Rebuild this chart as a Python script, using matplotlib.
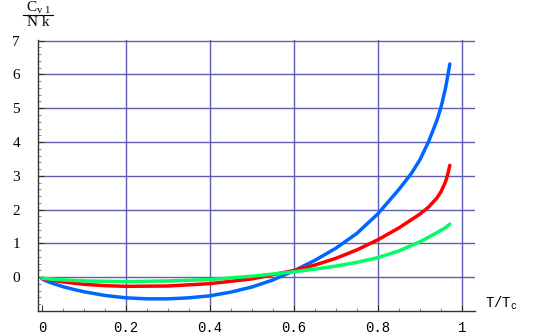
import numpy as np
import matplotlib
matplotlib.use('Agg')
import matplotlib.pyplot as plt
from matplotlib.ticker import MultipleLocator
from matplotlib.lines import Line2D

plt.rcParams['mathtext.fontset'] = 'custom'
plt.rcParams['mathtext.rm'] = 'Liberation Serif'
plt.rcParams['mathtext.it'] = 'Liberation Serif:italic'
plt.rcParams['mathtext.tt'] = 'Liberation Mono'

# T/Tc samples and heat-capacity curves
t_blue = [0.0, 0.01, 0.025, 0.05, 0.075, 0.1, 0.15, 0.2, 0.25, 0.3, 0.35, 0.4,
          0.45, 0.5, 0.55, 0.6, 0.65, 0.7, 0.75, 0.8, 0.85, 0.88, 0.9, 0.92,
          0.94, 0.95, 0.96, 0.965, 0.971]
c_blue = [-0.05, -0.11, -0.18, -0.28, -0.36, -0.43, -0.54, -0.61, -0.64, -0.64,
          -0.61, -0.55, -0.44, -0.29, -0.08, 0.19, 0.50, 0.86, 1.30, 1.88, 2.60,
          3.08, 3.48, 4.00, 4.63, 5.03, 5.55, 5.88, 6.31]

t_red = [0.0, 0.01, 0.025, 0.05, 0.1, 0.15, 0.2, 0.3, 0.4, 0.5, 0.6, 0.65, 0.7,
         0.75, 0.8, 0.85, 0.9, 0.92, 0.94, 0.95, 0.96, 0.965, 0.971]
c_red = [-0.03, -0.06, -0.09, -0.14, -0.21, -0.25, -0.27, -0.26, -0.19, -0.05,
         0.20, 0.36, 0.56, 0.81, 1.11, 1.46, 1.87, 2.07, 2.34, 2.53, 2.80, 2.99,
         3.31]

t_green = [0.0, 0.025, 0.05, 0.1, 0.2, 0.3, 0.4, 0.5, 0.6, 0.65, 0.7, 0.75, 0.8,
           0.85, 0.9, 0.92, 0.94, 0.96, 0.971]
c_green = [-0.03, -0.06, -0.08, -0.11, -0.13, -0.11, -0.07, 0.03, 0.16, 0.24,
           0.33, 0.44, 0.58, 0.78, 1.05, 1.18, 1.32, 1.46, 1.57]

fig = plt.figure(figsize=(5.45, 3.36), dpi=100)
ax = fig.add_axes([0.0697, 0.0744, 0.8019, 0.8066])

grid_col = '#5e5eae'
for x in [0.2, 0.4, 0.6, 0.8, 1.0]:
    ax.axvline(x, color=grid_col, lw=1.0, zorder=1)
for y in range(0, 8):
    ax.axhline(y, color=grid_col, lw=1.0, zorder=1)

ax.plot(t_blue, c_blue, color='#0066ff', lw=2.5, solid_capstyle='round',
        solid_joinstyle='round', zorder=3)
ax.plot(t_red, c_red, color='#ff0000', lw=2.5, solid_capstyle='round',
        solid_joinstyle='round', zorder=3)
ax.plot(t_green, c_green, color='#00ff66', lw=2.5, solid_capstyle='round',
        solid_joinstyle='round', zorder=3)

ax.set_xlim(-0.0095, 1.031)
ax.set_ylim(-1.0, 7.02)

for s in ['top', 'right']:
    ax.spines[s].set_visible(False)
for s in ['left', 'bottom']:
    ax.spines[s].set_color('#333333')
    ax.spines[s].set_linewidth(1.0)

ax.set_xticks([0, 0.2, 0.4, 0.6, 0.8, 1.0])
ax.set_xticklabels(['0', '0.2', '0.4', '0.6', '0.8', '1'],
                   family='Liberation Mono', fontsize=10)
ax.xaxis.set_minor_locator(MultipleLocator(0.05))
ax.set_yticks(range(0, 8))
ax.set_yticklabels([str(i) for i in range(0, 8)], family='Liberation Serif',
                   fontsize=11)
ax.yaxis.set_minor_locator(MultipleLocator(0.2))
ax.tick_params(axis='both', which='major', direction='in', length=4,
               width=0.8, color='#333333')
ax.tick_params(axis='both', which='minor', direction='in', length=2,
               width=0.6, color='#777777')
ax.tick_params(axis='y', which='major', pad=13)
ax.tick_params(axis='x', which='major', pad=7)

# y label as a stacked fraction
fig.text(38 / 545, 1 - 8 / 336, r'$\mathrm{C}_{\mathrm{v}\ \mathrm{1}}$',
         fontsize=11, ha='center', va='center')
fig.add_artist(Line2D([23 / 545, 53 / 545], [1 - 14.5 / 336, 1 - 14.5 / 336],
                      color='black', lw=0.8))
fig.text(38 / 545, 1 - 23 / 336, 'N k', family='Liberation Serif',
         fontsize=11, ha='center', va='center')

fig.text(485 / 545, 1 - 303 / 336, r'$\mathtt{T/T_c}$', fontsize=10,
         ha='left', va='center')

fig.savefig('out.png', dpi=100)
